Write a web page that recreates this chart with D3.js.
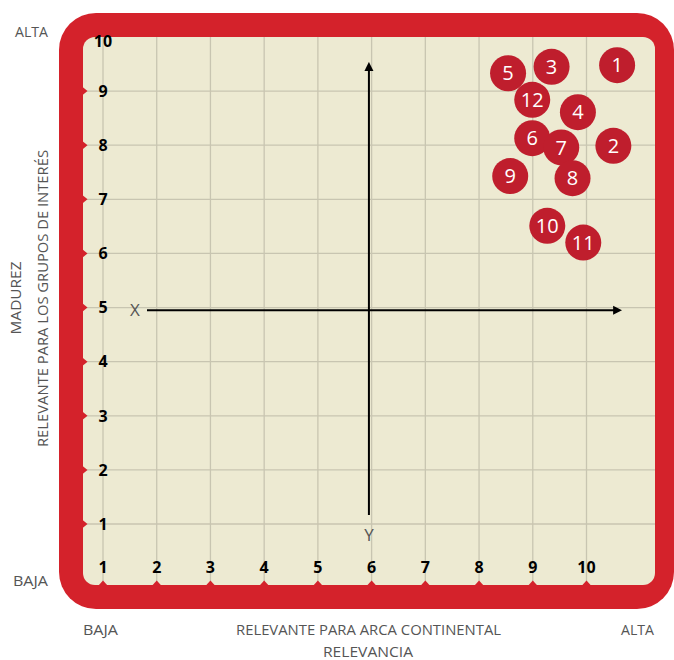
<!DOCTYPE html>
<html>
<head>
<meta charset="utf-8">
<script src="https://cdn.jsdelivr.net/npm/d3@7"></script>
<style>
  body { margin: 0; background: #fff; }
  svg { display: block; }
</style>
</head>
<body>
<div id="my_dataviz"></div>
<script>
// data
var ticks = [1, 2, 3, 4, 5, 6, 7, 8, 9, 10];
var ids = [1, 2, 3, 4, 5, 6, 7, 8, 9, 10, 11, 12];
var relevancia = [10.57, 10.50, 9.35, 9.84, 8.54, 8.99, 9.53, 9.74, 8.58, 9.27, 9.94, 8.99];
var madurez   = [9.48, 7.99, 9.45, 8.61, 9.33, 8.13, 7.96, 7.39, 7.43, 6.51, 6.20, 8.84];

var width = 674, height = 660;
var red = "#d4222b", bubble = "#bf1e2d", cream = "#edead2", grid = "#c8c5b1";

var svg = d3.select("#my_dataviz")
  .append("svg")
    .attr("width", width)
    .attr("height", height)
    .style("font-family", "'Open Sans', sans-serif");

// scales
var x = d3.scaleLinear().domain([1, 10]).range([103, 586.5]);
var y = d3.scaleLinear().domain([1, 10]).range([524, 37]);

// frame
svg.append("rect")
  .attr("x", 59).attr("y", 13)
  .attr("width", 615).attr("height", 596)
  .attr("rx", 37)
  .style("fill", red);
svg.append("rect")
  .attr("x", 83).attr("y", 37)
  .attr("width", 572).attr("height", 548)
  .attr("rx", 12)
  .style("fill", cream);

// grid
svg.append("g").selectAll("line")
  .data(ticks)
  .enter()
  .append("line")
    .attr("x1", function(d) { return x(d); })
    .attr("x2", function(d) { return x(d); })
    .attr("y1", 37).attr("y2", 585)
    .style("stroke", grid).style("stroke-width", 1.3);
svg.append("g").selectAll("line")
  .data(ticks.filter(function(d) { return d < 10; }))
  .enter()
  .append("line")
    .attr("x1", 83).attr("x2", 655)
    .attr("y1", function(d) { return y(d); })
    .attr("y2", function(d) { return y(d); })
    .style("stroke", grid).style("stroke-width", 1.3);

// notches on the frame
svg.append("g").selectAll("path")
  .data(ticks.filter(function(d) { return d < 10; }))
  .enter()
  .append("path")
    .attr("d", function(d) { var v = y(d); return "M82," + (v - 4.5) + "L87.5," + v + "L82," + (v + 4.5) + "Z"; })
    .style("fill", red);
svg.append("g").selectAll("path")
  .data(ticks)
  .enter()
  .append("path")
    .attr("d", function(d) { var v = x(d); return "M" + (v - 5) + ",586L" + v + ",580.5L" + (v + 5) + ",586Z"; })
    .style("fill", red);

// tick labels
svg.append("g").selectAll("text")
  .data(ticks)
  .enter()
  .append("text")
    .attr("x", x(1))
    .attr("y", function(d) { return Math.max(y(d), 41); })
    .attr("dy", "0.36em")
    .attr("text-anchor", "middle")
    .style("font-size", "16px").style("font-weight", "bold").style("fill", "#000")
    .text(function(d) { return d; });
svg.append("g").selectAll("text")
  .data(ticks)
  .enter()
  .append("text")
    .attr("x", function(d) { return x(d); })
    .attr("y", 567)
    .attr("dy", "0.36em")
    .attr("text-anchor", "middle")
    .style("font-size", "16px").style("font-weight", "bold").style("fill", "#000")
    .text(function(d) { return d; });

// X / Y arrows (crossing at 5.95 / 4.95 as drawn in the original)
svg.append("defs").append("marker")
  .attr("id", "arrow")
  .attr("viewBox", "0 0 10 10")
  .attr("refX", 1).attr("refY", 5)
  .attr("markerWidth", 4.5).attr("markerHeight", 5)
  .attr("markerUnits", "strokeWidth")
  .attr("orient", "auto")
  .append("path").attr("d", "M0,0L10,5L0,10Z").style("fill", "#000");

svg.append("line")
  .attr("x1", 147).attr("x2", 614)
  .attr("y1", y(4.95)).attr("y2", y(4.95))
  .style("stroke", "#000").style("stroke-width", 2)
  .attr("marker-end", "url(#arrow)");
svg.append("line")
  .attr("x1", x(5.95)).attr("x2", x(5.95))
  .attr("y1", 515).attr("y2", 70)
  .style("stroke", "#000").style("stroke-width", 2)
  .attr("marker-end", "url(#arrow)");

svg.append("text")
  .attr("x", 135).attr("y", y(4.95)).attr("dy", "0.36em")
  .attr("text-anchor", "middle")
  .style("font-size", "17px").style("fill", "#555")
  .text("X");
svg.append("text")
  .attr("x", x(5.95)).attr("y", 535).attr("dy", "0.36em")
  .attr("text-anchor", "middle")
  .style("font-size", "17px").style("fill", "#555")
  .text("Y");

// bubbles
var points = ids.map(function(d, i) { return {id: d, rx: relevancia[i], md: madurez[i]}; });
var nodes = svg.append("g").selectAll("g")
  .data(points)
  .enter()
  .append("g")
    .attr("transform", function(d) { return "translate(" + x(d.rx) + "," + y(d.md) + ")"; });
nodes.append("circle")
  .attr("r", 18)
  .style("fill", bubble);
nodes.append("text")
  .attr("text-anchor", "middle")
  .attr("dy", "0.36em")
  .style("font-size", "20px").style("fill", "#fff")
  .text(function(d) { return d.id; });

// outer labels
var lab = function(txt, px, py, len, rot) {
  var t = svg.append("text")
    .attr("x", px).attr("y", py)
    .attr("text-anchor", "middle")
    .style("font-size", "14px").style("fill", "#555")
    .text(txt);
  if (len) t.attr("textLength", len).attr("lengthAdjust", "spacingAndGlyphs");
  if (rot) t.attr("transform", "rotate(-90," + px + "," + py + ")");
  return t;
};
lab("ALTA", 31.5, 37, 33);
lab("BAJA", 30.5, 586, 35);
lab("BAJA", 100.5, 635, 35);
lab("RELEVANTE PARA ARCA CONTINENTAL", 368.5, 635, 265);
lab("ALTA", 637.5, 635, 33);
lab("RELEVANCIA", 368, 657, 90);
lab("MADUREZ", 21, 298, 73, true);
lab("RELEVANTE PARA LOS GRUPOS DE INTERÉS", 48, 298.5, 297, true);
</script>
</body>
</html>
